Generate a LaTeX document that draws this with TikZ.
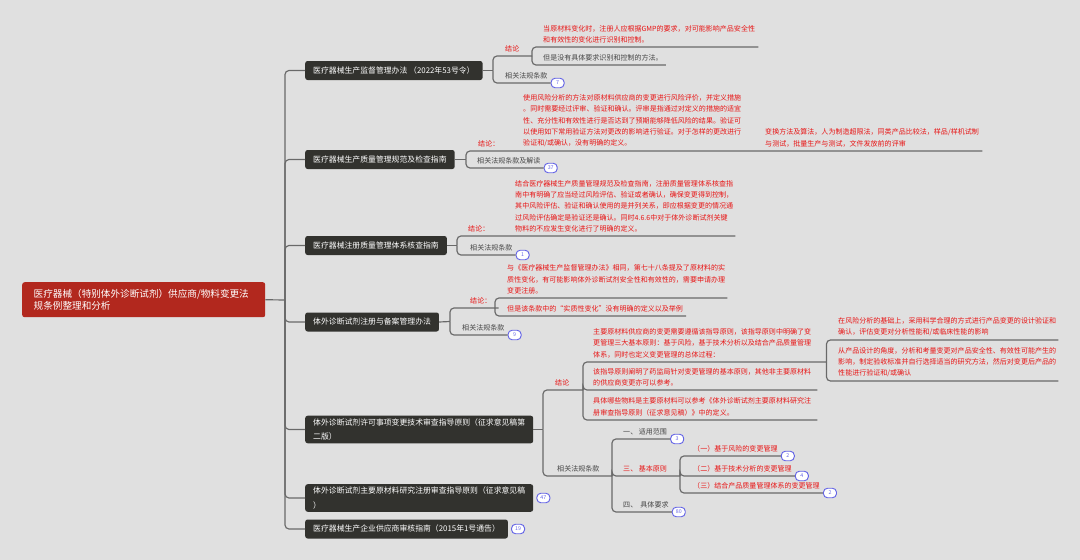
\documentclass[tikz,border=0pt]{standalone}
\usepackage{fontspec}
\setmainfont{Noto Sans CJK SC}
\usepackage{tikz}

\newlength{\pxu}
\setlength{\pxu}{0.03cm}

\definecolor{bgcol}{RGB}{224,224,224}
\definecolor{rootred}{RGB}{178,40,30}
\definecolor{boxdark}{RGB}{50,50,46}
\definecolor{mapred}{RGB}{232,20,20}
\definecolor{linegray}{RGB}{105,105,105}
\definecolor{txtgray}{RGB}{70,70,70}
\definecolor{badgeblue}{RGB}{100,100,230}

\tikzset{
  rootbox/.style={fill=rootred, text=white, rounded corners=2pt, anchor=north west,
    minimum width=243\pxu, minimum height=35\pxu, text width=220\pxu, inner xsep=11.5\pxu,
    align=left, font=\fontsize{8.2}{11}\selectfont},
  lawbox/.style={fill=boxdark, text=white, rounded corners=2pt, anchor=west,
    minimum height=19\pxu, inner xsep=8\pxu, inner ysep=3\pxu, align=left,
    font=\fontsize{6.7}{12}\selectfont},
  redtext/.style={text=mapred, anchor=south west, inner xsep=3\pxu, inner ysep=3.3pt,
    align=left, font=\fontsize{6}{9.6}\selectfont},
  graytext/.style={redtext, text=txtgray},
  badge/.style={draw=badgeblue, fill=white, text=badgeblue, rounded corners=4\pxu,
    line width=0.8pt, minimum width=13\pxu, minimum height=9.5\pxu, inner sep=0pt,
    anchor=west, font=\fontsize{4.5}{4.5}\selectfont},
  link/.style={draw=linegray, line width=1pt, rounded corners=4\pxu},
}

\begin{document}
\begin{tikzpicture}[x=0.03cm, y=-0.03cm]
        % Draw the background
        \fill[bgcol] (0,0) rectangle (1080,560);

        % Draw the root and the law boxes
        \node[rootbox] (root) at (22,282) {医疗器械（特别体外诊断试剂）供应商/物料变更法\\规条例整理和分析};
        \node[lawbox] (law1) at (305,70.5) {医疗器械生产监督管理办法 （2022年53号令）};
        \node[lawbox] (law2) at (305,159.5) {医疗器械生产质量管理规范及检查指南};
        \node[lawbox] (law3) at (305,245.5) {医疗器械注册质量管理体系核查指南};
        \node[lawbox] (law4) at (305,322) {体外诊断试剂注册与备案管理办法};
        \node[lawbox] (law5) at (305,429.5) {体外诊断试剂许可事项变更技术审查指导原则（征求意见稿第\\二版）};
        \node[lawbox] (law6) at (305,498) {体外诊断试剂主要原材料研究注册审查指导原则（征求意见稿\\）};
        \node[lawbox] (law7) at (305,529) {医疗器械生产企业供应商审核指南（2015年1号通告）};
        \node[badge] (k6) at ([xshift=3\pxu]law6.east) {47};
        \node[badge] (k7) at ([xshift=3\pxu]law7.east) {19};

        % Draw the spine
        \coordinate (hub) at (285,300);
        \draw[link] (root.east) -- (hub);
        \foreach \n in {law1,law2,law3,law4,law5,law6,law7}
            \draw[link] (hub) |- (\n.west);

        % Branch 1
        \coordinate (b1) at (493,70.5);
        \coordinate (b1c) at (532,56);
        \node[redtext] (con1) at (502,56) {结论};
        \node[graytext] (rel1) at (502,83) {相关法规条款};
        \node[badge] (k1) at (rel1.south east) {7};
        \node[redtext, text width=212\pxu] (txt11) at (540,47) {当原材料变化时，注册人应根据GMP的要求，对可能影响产品安全性\\和有效性的变化进行识别和控制。};
        \node[graytext] (txt12) at (540,65) {但是没有具体要求识别和控制的方法。};
        \draw[link] (law1.east) -- (b1);
        \draw[link] (b1) |- (con1.south east) -- (b1c);
        \draw[link] (b1) |- (rel1.south east);
        \draw[link] (b1c) |- (txt11.south east);
        \draw[link] (b1c) |- (txt12.south east);

        % Branch 2
        \coordinate (b2) at (466,159.5);
        \node[redtext] (con2) at (475,151) {结论：};
        \node[redtext, text width=226\pxu] (txt21) at (520,151) {使用风险分析的方法对原材料供应商的变更进行风险评价，并定义措施\\。同时需要经过评审、验证和确认。评审是指通过对定义的措施的适宜\\性、充分性和有效性进行是否达到了预期能够降低风险的结果。验证可\\以使用如下常用验证方法对更改的影响进行验证。对于怎样的更改进行\\验证和/或确认，没有明确的定义。};
        \node[redtext, text width=214\pxu] (txt22) at (762,151) {变换方法及算法，人为制造超限法，同类产品比较法，样品/样机试制\\与测试，批量生产与测试，文件发放前的评审};
        \node[graytext] (rel2) at (474,168) {相关法规条款及解读};
        \node[badge] (k2) at (rel2.south east) {37};
        \draw[link] (law2.east) -- (b2);
        \draw[link] (b2) |- (con2.south east) -- (txt21.south east) -- (txt22.south east);
        \draw[link] (b2) |- (rel2.south east);

        % Branch 3
        \coordinate (b3) at (457,245.5);
        \node[redtext] (con3) at (465,236) {结论：};
        \node[redtext, text width=217\pxu] (txt31) at (512,236) {结合医疗器械生产质量管理规范及检查指南，注册质量管理体系核查指\\南中有明确了应当经过风险评估、验证或者确认，确保变更得到控制，\\其中风险评估、验证和确认使用的是并列关系，即应根据变更的情况通\\过风险评估确定是验证还是确认。同时4.6.6中对于体外诊断试剂关键\\物料的不应发生变化进行了明确的定义。};
        \node[graytext] (rel3) at (467,255) {相关法规条款};
        \node[badge] (k3) at (rel3.south east) {1};
        \draw[link] (law3.east) -- (b3);
        \draw[link] (b3) |- (con3.south east) -- (txt31.south east);
        \draw[link] (b3) |- (rel3.south east);

        % Branch 4
        \coordinate (b4) at (450,321.5);
        \coordinate (b4c) at (495,308);
        \node[redtext] (con4) at (467,308) {结论：};
        \node[redtext, text width=217\pxu] (txt41) at (504,298) {与《医疗器械生产监督管理办法》相同，第七十八条提及了原材料的实\\质性变化，有可能影响体外诊断试剂安全性和有效性的，需要申请办理\\变更注册。};
        \node[redtext] (txt42) at (504,316) {但是该条款中的“实质性变化”没有明确的定义以及举例};
        \node[graytext] (rel4) at (459,335) {相关法规条款};
        \node[badge] (k4) at (rel4.south east) {9};
        \draw[link] (law4.east) -- (b4);
        \draw[link] (b4) |- (con4.south east) -- (b4c);
        \draw[link] (b4c) |- (txt41.south east);
        \draw[link] (b4c) |- (txt42.south east);
        \draw[link] (b4) |- (rel4.south east);

        % Branch 5
        \coordinate (b5) at (543,429.5);
        \coordinate (b5c) at (583,390);
        \coordinate (b5e) at (612,476);
        \coordinate (b5f) at (680,476);
        \node[redtext] (con5) at (552,390) {结论};
        \node[redtext, text width=230\pxu] (txt51) at (590,362) {主要原材料供应商的变更需要遵循该指导原则，该指导原则中明确了变\\更管理三大基本原则：基于风险，基于技术分析以及结合产品质量管理\\体系，同时也定义变更管理的总体过程：};
        \node[redtext, text width=221\pxu] (txt52) at (590,390) {该指导原则阐明了药监局针对变更管理的基本原则，其他非主要原材料\\的供应商变更亦可以参考。};
        \node[redtext, text width=221\pxu] (txt53) at (590,420) {具体哪些物料是主要原材料可以参考《体外诊断试剂主要原材料研究注\\册审查指导原则（征求意见稿）》中的定义。};
        \node[redtext, text width=217\pxu] (txt511) at (835,340) {在风险分析的基础上，采用科学合理的方式进行产品变更的设计验证和\\确认，评估变更对分析性能和/或临床性能的影响};
        \node[redtext, text width=217\pxu] (txt512) at (835,381) {从产品设计的角度，分析和考量变更对产品安全性、有效性可能产生的\\影响，制定验收标准并自行选择适当的研究方法，然后对变更后产品的\\性能进行验证和/或确认};
        \node[graytext] (rel5) at (554,476) {相关法规条款};
        \node[graytext] (sec1) at (620,439) {一、 适用范围};
        \node[redtext] (sec3) at (620,476) {三、 基本原则};
        \node[graytext] (sec4) at (620,512) {四、~~具体要求};
        \node[redtext] (pr1) at (690,456) {（一）基于风险的变更管理};
        \node[redtext] (pr2) at (690,476) {（二）基于技术分析的变更管理};
        \node[redtext] (pr3) at (690,493) {（三）结合产品质量管理体系的变更管理};
        \node[badge] (k51) at (sec1.south east) {3};
        \node[badge] (k54) at (sec4.south east) {80};
        \node[badge] (k61) at (pr1.south east) {2};
        \node[badge] (k62) at (pr2.south east) {4};
        \node[badge] (k63) at (pr3.south east) {2};
        \draw[link] (law5.east) -- (b5);
        \draw[link] (b5) |- (con5.south east) -- (b5c);
        \draw[link] (b5c) |- (txt51.south east);
        \draw[link] (b5c) |- (txt52.south east);
        \draw[link] (b5c) |- (txt53.south east);
        \draw[link] (txt51.south east) |- (txt511.south east);
        \draw[link] (txt51.south east) |- (txt512.south east);
        \draw[link] (b5) |- (rel5.south east) -- (b5e);
        \draw[link] (b5e) |- (sec1.south east);
        \draw[link] (b5e) |- (sec3.south east) -- (b5f);
        \draw[link] (b5e) |- (sec4.south east);
        \draw[link] (b5f) |- (pr1.south east);
        \draw[link] (b5f) |- (pr2.south east);
        \draw[link] (b5f) |- (pr3.south east);
    \end{tikzpicture}
\end{document}
